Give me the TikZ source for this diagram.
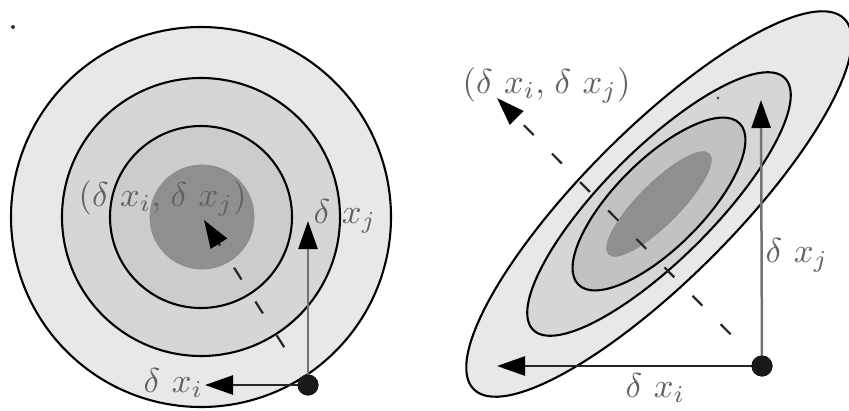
\documentclass[tikz,border=0pt]{standalone}
\usetikzlibrary{arrows.meta}
\tikzset{
  contour/.style={draw=black, line width=2.1pt},
  blob/.style={draw=black!45, line width=0.8pt},
  tip/.style={-{Triangle[length=28pt,width=19pt,color=black]}},
  shaftv/.style={line width=2.5pt, draw=black!55},
  shafth/.style={line width=2.5pt, draw=black!85},
  dashln/.style={line width=2.2pt, draw=black!85, dash pattern=on 14pt off 26pt, dash phase=14pt, shorten <=8pt},
  lbl/.style={text=black!62, scale=3.45, inner sep=0pt},
  dotnode/.style={circle, fill=black!90, inner sep=0pt, minimum size=21pt},
}
\newcommand{\dx}[1]{\delta\mkern6mu x_{#1}}
\begin{document}
\begin{tikzpicture}[x=1pt,y=-1pt]
\useasboundingbox (0,0) rectangle (849,410);
\fill[white] (0,0) rectangle (849,410);
% ---------- left panel: circles ----------
\draw[contour, fill=black!9]  (201,217) circle [radius=190pt];
\draw[contour, fill=black!16] (201,217) circle [radius=139pt];
\draw[contour, fill=black!20] (201,217) circle [radius=91pt];
\fill[black!44] (202,217) circle [radius=52pt];
\draw[blob] (202,217) circle [radius=52pt];
% ---------- right panel: ellipses ----------
\begin{scope}[shift={(659,204)}, rotate=45]
  \draw[contour, fill=black!9]  (0,0) ellipse [x radius=262pt, y radius=75pt];
  \draw[contour, fill=black!16] (0,0) ellipse [x radius=178pt, y radius=55pt];
  \draw[contour, fill=black!24] (0,0) ellipse [x radius=114pt, y radius=44pt];
  \fill[black!44] (0,0) ellipse [x radius=71pt, y radius=20.5pt];
  \draw[blob] (0,0) ellipse [x radius=71pt, y radius=20.5pt];
\end{scope}
% ---------- left panel: arrows ----------
\node[dotnode] (ldot) at (308,385) {};
\coordinate (lup) at (308,221);
\coordinate (lleft) at (205,385);
\coordinate (lc) at (204,220);
\draw[shaftv, tip] (ldot.center) -- (lup);
\draw[shafth, tip] (ldot.center) -- (lleft);
\draw[dashln, tip] (ldot) -- (lc);
\node[dotnode] at (ldot) {};
% ---------- right panel: arrows ----------
\node[dotnode] (rdot) at (762,366) {};
\coordinate (rup) at (761,100);
\coordinate (rleft) at (497,366);
\coordinate (rc) at (497,98);
\draw[shaftv, tip] (rdot.center) -- (rup);
\draw[shafth, tip] (rdot.center) -- (rleft);
\draw[dashln, tip] (rdot) -- (rc);
\node[dotnode] at (rdot) {};
% ---------- labels ----------
\node[lbl, anchor=base west] (lpair) at (78,206) {$(\dx{i},\mkern2mu\dx{j})$};
\node[lbl, anchor=base west] (lxj) at (313,223) {$\dx{j}$};
\node[lbl, anchor=base west] (lxi) at (143,392) {$\dx{i}$};
\node[lbl, anchor=base west] (rpair) at (462,93) {$(\dx{i},\mkern2mu\dx{j})$};
\node[lbl, anchor=base west] (rxj) at (765,262) {$\dx{j}$};
\node[lbl, anchor=base west] (rxi) at (625,397) {$\dx{i}$};
% stray specks
\fill[black!80] (13,27) circle [radius=2pt];
\fill[black!70] (718,98) circle [radius=1.6pt];
\end{tikzpicture}
\end{document}
